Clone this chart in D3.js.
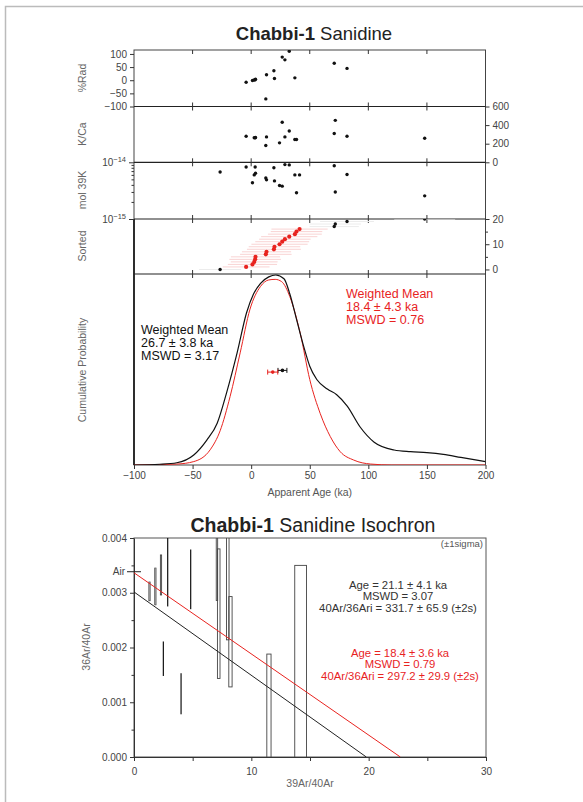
<!DOCTYPE html>
<html>
<head>
<meta charset="utf-8">
<script src="https://cdn.jsdelivr.net/npm/d3@7"></script>
<style>
  body { margin: 0; background: #fff; }
  svg { font-family: "Liberation Sans", Arial, sans-serif; }
  .tick text { fill: #444; font-size: 10px; }
  .tick line, .domain { stroke: #333; }
</style>
</head>
<body>
<svg id="chart" width="583" height="802"></svg>
<script>
// step data, sorted by apparent age (ka)
var stepAge = [-26.5, -4.3, 1.1, 2.6, 3.4, 3.7, 12.5, 13.1, 19.4, 19.9, 24.2, 26.5, 28.8, 32.5, 37.3, 38.7, 41.3, 70.9, 71.8, 81.8, 148.1];
var stepErr = [18, 20, 21, 20, 22, 21, 22, 21, 23, 22, 24, 23, 22, 24, 23, 22, 24, 21, 22, 23, 26];
var pctRad = [null, -7.7, -1, 1, 2, 4, -71, 21, 36, 6.6, null, 88, 77.5, 110, 9, null, null, 64.5, null, 45, null];
var kca = [null, 280, null, 264, 264, 266, 181, 273, null, null, 209, 430, 273, 337, 245, 245, null, 309, 451, 280, 259];
var mol39K = [6.74e-15, 8.26e-15, 4.36e-15, 6.0e-15, 8.26e-15, 6.4e-15, 5.3e-15, 4.9e-15, 8.0e-15, 4.7e-15, 3.9e-15,
  3.8e-15, 9.1e-15, 9.0e-15, 6.0e-15, 2.9e-15, 6.0e-15, 8.7e-15, 3.0e-15, 6.1e-15, 2.56e-15];
var included = [0, 1, 1, 1, 1, 1, 1, 1, 1, 1, 1, 1, 1, 1, 1, 1, 1, 0, 0, 0, 0];

// cumulative probability curves
var probAgeAll = [-100, -78, -63.5, -49, -38, -29, -21, -12, -4, 2, 8, 15, 21, 28, 33, 39, 45, 50, 56, 65, 73, 82, 93, 105, 122, 136, 150, 164, 179, 200];
var probAll = [0, 0.004, 0.012, 0.053, 0.13, 0.22, 0.38, 0.59, 0.80, 0.90, 0.956, 0.99, 1.0, 0.98, 0.90, 0.76, 0.62, 0.52, 0.45, 0.40, 0.37, 0.31, 0.20, 0.12, 0.079, 0.07, 0.065, 0.056, 0.04, 0.018];
var probAgeIncl = [-100, -63.5, -49, -35, -26.5, -18, -9.4, -1, 8, 15, 20.5, 26, 33, 42, 50, 59, 67.5, 76, 87.5, 102, 120, 200];
var probIncl = [0, 0.005, 0.018, 0.08, 0.18, 0.36, 0.59, 0.82, 0.94, 0.974, 0.977, 0.965, 0.886, 0.69, 0.45, 0.27, 0.15, 0.07, 0.026, 0.005, 0, 0];

var wmAge = [26.7, 18.4];
var wmErr = [3.8, 4.3];
var wmLabel = [["Weighted Mean", "26.7 \u00b1 3.8 ka", "MSWD = 3.17"], ["Weighted Mean", "18.4 \u00b1 4.3 ka", "MSWD = 0.76"]];

// isochron error boxes
var isoX = [1.32, 1.82, 2.30, 2.84, 2.47, 3.98, 4.80, 7.07, 7.22, 7.99, 8.22, 11.50, 14.20];
var isoXErr = [0.05, 0.05, 0.05, 0.02, 0.02, 0.02, 0.02, 0.06, 0.11, 0.11, 0.14, 0.18, 0.50];
var isoY = [0.003025, 0.003115, 0.003325, 0.0039, 0.001795, 0.001155, 0.003245, 0.0042, 0.002618, 0.0036, 0.002105, 0.0008, 0.0014];
var isoYErr = [0.00017, 0.000335, 0.000365, 0.00115, 0.000315, 0.000375, 0.000545, 0.00134, 0.001183, 0.00146, 0.000825, 0.00108, 0.0021];
var isoInterceptY = [1 / 331.7, 1 / 297.2];
var isoInterceptX = [19.8, 22.7];
var isoLabel = [["Age = 21.1 \u00b1 4.1 ka", "MSWD = 3.07", "40Ar/36Ari = 331.7 \u00b1 65.9 (\u00b12s)"],
  ["Age = 18.4 \u00b1 3.6 ka", "MSWD = 0.79", "40Ar/36Ari = 297.2 \u00b1 29.9 (\u00b12s)"]];
var airRatio = 1 / 295.5;

var RED = "#e8231f";
var svg = d3.select("#chart");

// page frame
svg.append("path").attr("d", "M5.5,802V6.5H583").attr("fill", "none").attr("stroke", "#bbb").attr("stroke-width", 1.5);

var L = 134, R = 485.5;
var x = d3.scaleLinear().domain([-100, 200]).range([L, R]);
var panels = [
  { top: 50, bottom: 106.5 },
  { top: 106.5, bottom: 162.3 },
  { top: 162.3, bottom: 219 },
  { top: 219, bottom: 274 },
  { top: 274, bottom: 465 }
];
var yRad = d3.scaleLinear().domain([-100, 115]).range([106.5, 50]);
var yKca = d3.scaleLinear().domain([0, 600]).range([162.3, 106.5]);
var yMol = d3.scaleLog().domain([1e-15, 1e-14]).range([219, 162.3]);
var ySort = d3.scaleLinear().domain([-1.8, 20]).range([274, 219]);
var yProb = d3.scaleLinear().domain([0, 1]).range([465, 275]);

svg.append("text").attr("x", 314).attr("y", 40).attr("text-anchor", "middle")
  .attr("font-size", 18.5).attr("fill", "#222")
  .html('<tspan font-weight="bold">Chabbi-1</tspan> Sanidine');

var defs = svg.append("defs");
panels.forEach(function (p, i) {
  defs.append("clipPath").attr("id", "clip" + i).append("rect")
    .attr("x", L).attr("y", p.top).attr("width", R - L).attr("height", p.bottom - p.top);
});

// frames
svg.append("rect").attr("x", L).attr("y", 50).attr("width", R - L).attr("height", 415)
  .attr("fill", "none").attr("stroke", "#444").attr("stroke-width", 1);
svg.append("line").attr("x1", L).attr("x2", L).attr("y1", 219).attr("y2", 465)
  .attr("stroke", "#111").attr("stroke-width", 1.6);
panels.slice(1).forEach(function (p) {
  svg.append("line").attr("x1", L).attr("x2", R).attr("y1", p.top).attr("y2", p.top)
    .attr("stroke", "#222").attr("stroke-width", 1.2);
});

// x tick crosses on every boundary
var xTicks = [-50, 0, 50, 100, 150];
[50, 106.5, 162.3, 219, 274].forEach(function (yy, i) {
  svg.append("g").selectAll("line").data(xTicks).join("line")
    .attr("x1", function (d) { return x(d); }).attr("x2", function (d) { return x(d); })
    .attr("y1", i === 0 ? yy : yy - 4).attr("y2", yy + 4)
    .attr("stroke", "#333");
});

// bottom age axis
var xAxis = svg.append("g").attr("transform", "translate(0,465)")
  .call(d3.axisBottom(x).tickValues([-100, -50, 0, 50, 100, 150, 200]).tickSize(4).tickSizeOuter(0)
    .tickFormat(function (d) { return d < 0 ? "\u2212" + Math.abs(d) : d; }));
xAxis.select(".domain").remove();
xAxis.selectAll(".tick text").attr("font-size", 10.5);
svg.append("text").attr("x", x(50)).attr("y", 496).attr("text-anchor", "middle")
  .attr("font-size", 10.5).attr("fill", "#555").text("Apparent Age (ka)");

function minus(d) { return d < 0 ? "\u2212" + Math.abs(d) : d; }

// %Rad
var gRad = svg.append("g").attr("transform", "translate(" + L + ",0)")
  .call(d3.axisLeft(yRad).tickValues([-100, -50, 0, 50, 100]).tickSize(4).tickSizeOuter(0).tickFormat(minus));
gRad.select(".domain").remove();
// K/Ca right axis
var gKca = svg.append("g").attr("transform", "translate(" + R + ",0)")
  .call(d3.axisRight(yKca).tickValues([0, 200, 400, 600]).tickSize(4).tickSizeOuter(0));
gKca.select(".domain").remove();
// mol 39K log axis
var gMol = svg.append("g").attr("transform", "translate(" + L + ",0)")
  .call(d3.axisLeft(yMol).tickValues(d3.range(1, 11).map(function (k) { return k * 1e-15; }))
    .tickSize(2.5).tickSizeOuter(0).tickFormat(""));
gMol.select(".domain").remove();
gMol.selectAll(".tick line").filter(function (d) { return d === 1e-15 || Math.abs(d - 1e-14) < 1e-20; }).attr("x2", -5);
[1e-14, 1e-15].forEach(function (v, i) {
  svg.append("text").attr("x", L - 8).attr("y", yMol(v) + 4).attr("text-anchor", "end")
    .attr("font-size", 10).attr("fill", "#444")
    .html('10<tspan dy="-4" font-size="7.5">\u2212' + (i === 0 ? 14 : 15) + '</tspan>');
});
// sorted right axis
var gSort = svg.append("g").attr("transform", "translate(" + R + ",0)")
  .call(d3.axisRight(ySort).tickValues([0, 5, 10, 15, 20]).tickSize(4).tickSizeOuter(0)
    .tickFormat(function (d) { return d % 10 === 0 ? d : ""; }));
gSort.select(".domain").remove();
gSort.selectAll(".tick line").filter(function (d) { return d % 10 !== 0; }).attr("x2", 2.5);

// y titles
[["%Rad", 78], ["K/Ca", 134], ["mol 39K", 190], ["Sorted", 246], ["Cumulative Probability", 370]].forEach(function (t) {
  svg.append("text").attr("transform", "translate(86," + t[1] + ") rotate(-90)")
    .attr("text-anchor", "middle").attr("font-size", 10.5).attr("fill", "#666").text(t[0]);
});

var idx = d3.range(stepAge.length);
function dots(clip, yScale, vals) {
  svg.append("g").attr("clip-path", "url(#clip" + clip + ")").selectAll("circle")
    .data(idx.filter(function (i) { return vals[i] != null; })).join("circle")
    .attr("cx", function (i) { return x(stepAge[i]); })
    .attr("cy", function (i) { return yScale(vals[i]); })
    .attr("r", 1.7).attr("fill", "#111");
}
dots(0, yRad, pctRad);
dots(1, yKca, kca);
dots(2, yMol, mol39K);

// sorted panel with age errors
var gS = svg.append("g").attr("clip-path", "url(#clip3)");
gS.selectAll("line").data(idx).join("line")
  .attr("x1", function (i) { return x(stepAge[i] - stepErr[i]); })
  .attr("x2", function (i) { return x(stepAge[i] + stepErr[i]); })
  .attr("y1", function (i) { return ySort(i); }).attr("y2", function (i) { return ySort(i); })
  .attr("stroke", function (i) { return included[i] ? "#f9d3d3" : "#ececec"; }).attr("stroke-width", 1);
gS.selectAll("circle").data(idx).join("circle")
  .attr("cx", function (i) { return x(stepAge[i]); })
  .attr("cy", function (i) { return ySort(i); })
  .attr("r", function (i) { return included[i] ? 2.1 : 1.7; })
  .attr("fill", function (i) { return included[i] ? RED : "#111"; });

// probability curves
var gP = svg.append("g").attr("clip-path", "url(#clip4)");
var line = d3.line().curve(d3.curveMonotoneX)
  .x(function (d) { return x(d[0]); }).y(function (d) { return yProb(d[1]); });
gP.append("path").datum(d3.zip(probAgeIncl, probIncl)).attr("d", line)
  .attr("fill", "none").attr("stroke", RED).attr("stroke-width", 1);
gP.append("path").datum(d3.zip(probAgeAll, probAll)).attr("d", line)
  .attr("fill", "none").attr("stroke", "#111").attr("stroke-width", 1.2);

// weighted mean markers
var wmColor = ["#111", RED];
var wmY = [yProb(0.498), yProb(0.489)];
wmAge.forEach(function (a, i) {
  var g = svg.append("g").attr("stroke", wmColor[i]).attr("stroke-width", 1);
  g.append("line").attr("x1", x(a - wmErr[i])).attr("x2", x(a + wmErr[i])).attr("y1", wmY[i]).attr("y2", wmY[i]);
  [a - wmErr[i], a + wmErr[i]].forEach(function (e) {
    g.append("line").attr("x1", x(e)).attr("x2", x(e)).attr("y1", wmY[i] - 2.5).attr("y2", wmY[i] + 2.5);
  });
  svg.append("circle").attr("cx", x(a)).attr("cy", wmY[i]).attr("r", 1.8).attr("fill", wmColor[i]);
});
var wmTextPos = [[141, 334], [346, 298]];
wmLabel.forEach(function (lines, i) {
  svg.append("g").selectAll("text").data(lines).join("text")
    .attr("x", wmTextPos[i][0]).attr("y", function (d, k) { return wmTextPos[i][1] + k * 12.9; })
    .attr("font-size", 12.5).attr("fill", wmColor[i]).text(function (d) { return d; });
});

// ---------- isochron ----------
var xi = d3.scaleLinear().domain([0, 30]).range([134, 486]);
var yi = d3.scaleLinear().domain([0, 0.004]).range([757, 538]);

svg.append("text").attr("x", 313).attr("y", 532).attr("text-anchor", "middle")
  .attr("font-size", 19.5).attr("fill", "#222")
  .html('<tspan font-weight="bold">Chabbi-1</tspan> Sanidine Isochron');

defs.append("clipPath").attr("id", "clipIso").append("rect")
  .attr("x", 134).attr("y", 538).attr("width", 352).attr("height", 219);

svg.append("rect").attr("x", 134).attr("y", 538).attr("width", 352).attr("height", 219)
  .attr("fill", "none").attr("stroke", "#555");

var gxi = svg.append("g").attr("transform", "translate(0,757)")
  .call(d3.axisBottom(xi).tickValues([0, 5, 10, 15, 20, 25, 30]).tickSize(4).tickSizeOuter(0)
    .tickFormat(function (d) { return d % 10 === 0 ? d : ""; }));
gxi.select(".domain").attr("stroke", "#222");
gxi.selectAll(".tick text").attr("dy", "1.1em");
var gyi = svg.append("g").attr("transform", "translate(134,0)")
  .call(d3.axisLeft(yi).tickValues(d3.range(0, 0.00401, 0.0005)).tickSize(4).tickSizeOuter(0)
    .tickFormat(function (d) { return Math.round(d * 2000) % 2 === 0 ? d3.format(".3f")(d) : ""; }));
gyi.select(".domain").attr("stroke", "#222");
gyi.selectAll(".tick line").filter(function (d) { return Math.round(d * 2000) % 2 !== 0; }).attr("x2", -2.5);

svg.append("line").attr("x1", 127).attr("x2", 141).attr("y1", yi(airRatio)).attr("y2", yi(airRatio)).attr("stroke", "#222");
svg.append("text").attr("x", 125).attr("y", yi(airRatio) + 3.5).attr("text-anchor", "end")
  .attr("font-size", 10).attr("fill", "#444").text("Air");

svg.append("text").attr("transform", "translate(90,647) rotate(-90)").attr("text-anchor", "middle")
  .attr("font-size", 10.5).attr("fill", "#666").text("36Ar/40Ar");
svg.append("text").attr("x", xi(15)).attr("y", 787).attr("text-anchor", "middle")
  .attr("font-size", 10.5).attr("fill", "#666").text("39Ar/40Ar");
svg.append("text").attr("x", 483).attr("y", 547).attr("text-anchor", "end")
  .attr("font-size", 9.5).attr("fill", "#555").text("(\u00b11sigma)");

var gI = svg.append("g").attr("clip-path", "url(#clipIso)");
gI.selectAll("rect").data(d3.range(isoX.length)).join("rect")
  .attr("x", function (i) { return xi(isoX[i] - isoXErr[i]); })
  .attr("width", function (i) { return Math.max(1.2, xi(isoX[i] + isoXErr[i]) - xi(isoX[i] - isoXErr[i])); })
  .attr("y", function (i) { return yi(isoY[i] + isoYErr[i]); })
  .attr("height", function (i) { return yi(isoY[i] - isoYErr[i]) - yi(isoY[i] + isoYErr[i]); })
  .attr("fill", function (i) { return isoXErr[i] <= 0.02 ? "#111" : "none"; })
  .attr("stroke", function (i) { return isoXErr[i] <= 0.02 ? "none" : "#444"; })
  .attr("stroke-width", 0.9);

var isoColor = ["#222", RED];
isoInterceptY.forEach(function (y0, i) {
  gI.append("line").attr("x1", xi(0)).attr("y1", yi(y0)).attr("x2", xi(isoInterceptX[i])).attr("y2", yi(0))
    .attr("stroke", isoColor[i]).attr("stroke-width", 1);
});

var isoTextPos = [[398, 589], [400, 657]];
isoLabel.forEach(function (lines, i) {
  svg.append("g").selectAll("text").data(lines).join("text")
    .attr("x", isoTextPos[i][0]).attr("y", function (d, k) { return isoTextPos[i][1] + k * 11.4; })
    .attr("text-anchor", "middle").attr("font-size", 11.3).attr("fill", i === 0 ? "#333" : RED)
    .text(function (d) { return d; });
});
</script>
</body>
</html>
